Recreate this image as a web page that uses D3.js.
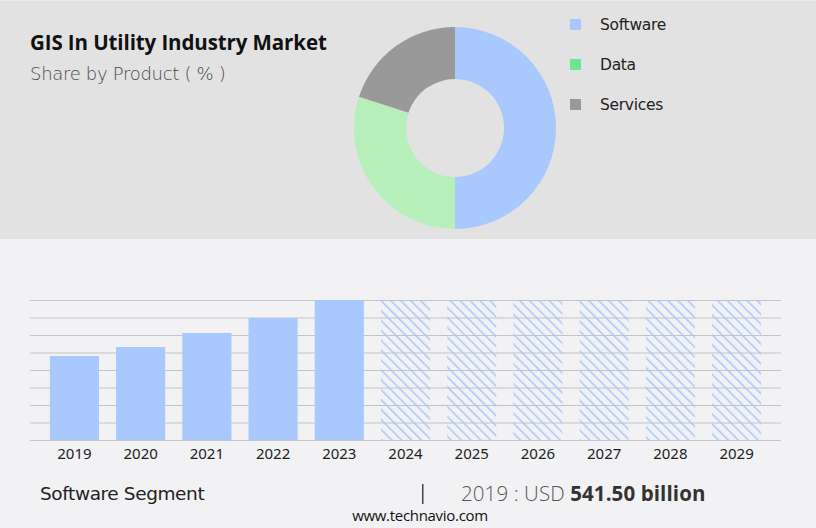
<!DOCTYPE html>
<html>
<head>
<meta charset="utf-8">
<script src="https://cdn.jsdelivr.net/npm/d3@7"></script>
<style>
  html, body { margin: 0; padding: 0; background: #f2f2f4; }
  svg { display: block; }
</style>
</head>
<body>
<svg id="chart" width="816" height="528"></svg>
<script>
// ---- data ----
const title = "GIS In Utility Industry Market";
const subtitle = "Share by Product ( % )";
const segments = ["Software", "Data", "Services"];
const shares = [50, 30, 20];
const donutColors = ["#a8c8fe", "#b6efba", "#999999"];
const legendColors = ["#a8c8fe", "#6ee595", "#999999"];

const years = ["2019","2020","2021","2022","2023","2024","2025","2026","2027","2028","2029"];
const values = [541.5, 599.5, 690, 786, 902.5, 902.5, 902.5, 902.5, 902.5, 902.5, 902.5];
const forecast = [false, false, false, false, false, true, true, true, true, true, true];
const gridTicks = [0, 112.8, 225.6, 338.4, 451.2, 564, 676.8, 789.6, 902.5];
const yMax = 902.5;

const footerLeft = "Software Segment";
const footerYear = "2019 : USD ";
const footerValue = "541.50 billion";
const source = "www.technavio.com";

// ---- drawing ----
const svg = d3.select("#chart");
const W = 816, H = 528;

svg.append("rect").attr("x", 0).attr("y", 0).attr("width", W).attr("height", H).attr("fill", "#f2f2f4");
svg.append("rect").attr("x", 0).attr("y", 0).attr("width", W).attr("height", 239).attr("fill", "#e2e2e2");
svg.append("rect").attr("x", 0).attr("y", 0).attr("width", W).attr("height", 1).attr("fill", "#ececec");

svg.append("text").attr("x", 30).attr("y", 50)
  .attr("font-family", "'Open Sans', 'Noto Sans', sans-serif")
  .attr("font-weight", 700).attr("font-size", 20.5).attr("fill", "#111")
  .attr("letter-spacing", -0.1)
  .text(title);
svg.append("text").attr("x", 30).attr("y", 80)
  .attr("font-family", "'DejaVu Sans', sans-serif")
  .attr("font-weight", 300).attr("font-size", 18).attr("fill", "#4a4a4a")
  .attr("letter-spacing", -0.3)
  .text(subtitle);

// donut
const pie = d3.pie().sort(null).value(d => d)(shares);
const arc = d3.arc().innerRadius(49).outerRadius(101);
const dg = svg.append("g").attr("transform", "translate(455,128)");
dg.selectAll("path").data(pie).join("path")
  .attr("d", arc).attr("fill", (d, i) => donutColors[i]);

// legend
const lg = svg.append("g");
segments.forEach((s, i) => {
  lg.append("rect").attr("x", 570).attr("y", 19 + i * 40).attr("width", 11).attr("height", 11)
    .attr("fill", legendColors[i]);
  lg.append("text").attr("x", 600).attr("y", 30 + i * 40)
    .attr("font-family", "'DejaVu Sans', sans-serif").attr("font-size", 15.5)
    .attr("fill", "#222").attr("letter-spacing", -0.3)
    .text(s);
});

// bar chart
const x = d3.scaleBand().domain(years).range([30, 781]).paddingInner(0.258).paddingOuter(0.3);
const y = d3.scaleLinear().domain([0, yMax]).range([440, 300]);

const defs = svg.append("defs");
const pat = defs.append("pattern").attr("id", "hatch").attr("patternUnits", "userSpaceOnUse")
  .attr("width", 7).attr("height", 7).attr("patternTransform", "rotate(-45)");
pat.append("line").attr("x1", 0).attr("y1", 0).attr("x2", 0).attr("y2", 7)
  .attr("stroke", "#a8c8fe").attr("stroke-width", 3);

const gy = svg.append("g").attr("transform", "translate(30,0)")
  .call(d3.axisLeft(y).tickValues(gridTicks).tickSize(-751).tickFormat(""));
gy.select(".domain").remove();
gy.selectAll(".tick line").attr("stroke", "#c4c4c4").attr("stroke-width", 1.2);

svg.append("g").selectAll("rect").data(years).join("rect")
  .attr("x", d => x(d))
  .attr("y", (d, i) => y(values[i]))
  .attr("width", x.bandwidth())
  .attr("height", (d, i) => y(0) - y(values[i]))
  .attr("fill", (d, i) => forecast[i] ? "url(#hatch)" : "#a8c8fe");

const gx = svg.append("g").attr("transform", "translate(0,440)")
  .call(d3.axisBottom(x).tickSize(0).tickPadding(8));
gx.select(".domain").remove();
gx.selectAll("text").attr("font-family", "'Noto Sans', 'Open Sans', sans-serif")
  .attr("font-size", 15).attr("fill", "#222").attr("dy", "0.71em");

// footer
svg.append("text").attr("x", 40).attr("y", 500)
  .attr("font-family", "'DejaVu Sans', sans-serif").attr("font-size", 18.5)
  .attr("fill", "#222").attr("letter-spacing", -0.4)
  .text(footerLeft);
svg.append("rect").attr("x", 422).attr("y", 484).attr("width", 1.5).attr("height", 20).attr("fill", "#444");
const ft = svg.append("text").attr("x", 461).attr("y", 501)
  .attr("font-family", "'Open Sans', 'Noto Sans', sans-serif").attr("font-size", 20.5)
  .attr("fill", "#555").attr("letter-spacing", 0.1);
ft.append("tspan").attr("font-weight", 300).text(footerYear);
ft.append("tspan").attr("font-weight", 700).attr("fill", "#333").text(footerValue);
svg.append("text").attr("x", 420).attr("y", 521).attr("text-anchor", "middle")
  .attr("font-family", "'Open Sans', 'Noto Sans', sans-serif").attr("font-size", 15)
  .attr("fill", "#111").attr("letter-spacing", -0.3)
  .text(source);
</script>
</body>
</html>
